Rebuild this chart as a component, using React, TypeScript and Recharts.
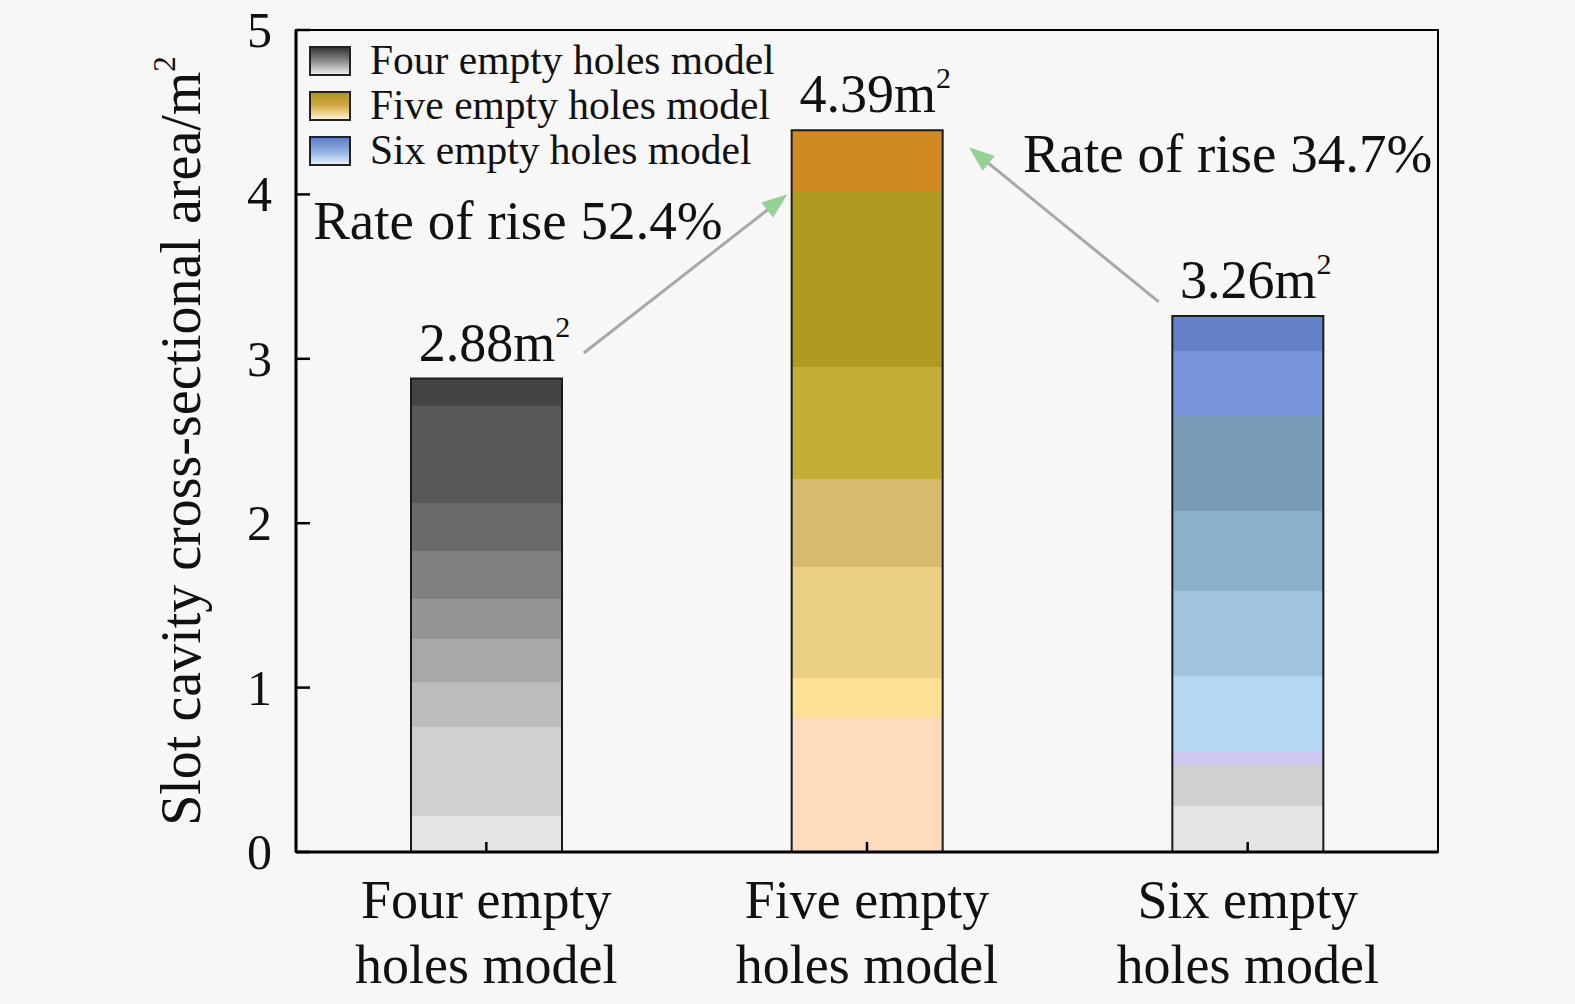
import React from 'react'
import {
  BarChart,
  Bar,
  Cell,
  XAxis,
  YAxis,
  LabelList,
  ReferenceLine,
  ReferenceDot,
  ReferenceArea,
} from 'recharts'

// data
const categories = ['Four empty holes model', 'Five empty holes model', 'Six empty holes model']
const areas = [2.88, 4.39, 3.26]
const tickLines = [
  ['Four empty', 'holes model'],
  ['Five empty', 'holes model'],
  ['Six empty', 'holes model'],
]
const riseRates = ['52.4%', '34.7%']
const yTicks = [0, 1, 2, 3, 4, 5]

const data = categories.map((name, i) => ({ name, value: areas[i] }))

// colour bands of each bar, from the top: [colour, lower edge as fraction of bar height]
const bandStyles: [string, number][][] = [
  [
    ['#444444', 0.059],
    ['#585858', 0.263],
    ['#6a6a6a', 0.364],
    ['#808080', 0.466],
    ['#959595', 0.551],
    ['#a8a8a8', 0.642],
    ['#bcbcbc', 0.737],
    ['#d0d0d0', 0.924],
    ['#e4e4e4', 1],
  ],
  [
    ['#d08a24', 0.085],
    ['#b09a22', 0.328],
    ['#c4ae38', 0.483],
    ['#d8ba6e', 0.605],
    ['#eacf85', 0.759],
    ['#fde095', 0.814],
    ['#fddbbb', 1],
  ],
  [
    ['#6480c8', 0.065],
    ['#7794dc', 0.185],
    ['#7a9cb8', 0.364],
    ['#8ab0cc', 0.513],
    ['#a0c4e0', 0.672],
    ['#b4d8f4', 0.812],
    ['#d0c8f0', 0.84],
    ['#d0d0d0', 0.914],
    ['#e4e4e4', 1],
  ],
]

const legendSwatches = [
  [['#303030', 0], ['#8a8a8a', 0.5], ['#f4f4f4', 1]],
  [['#a89420', 0], ['#d0a640', 0.45], ['#f0d48c', 0.75], ['#fff6e4', 1]],
  [['#5a7ac8', 0], ['#94b4e4', 0.55], ['#eaf4ff', 1]],
]

// annotation layout on the hidden linear x axis (spans 0..2 across the plot) and the y axis
const arrows = [
  [{ x: 0.504, y: 3.035 }, { x: 0.859, y: 3.996 }],
  [{ x: 1.511, y: 3.346 }, { x: 1.18, y: 4.282 }],
]
const rateSpots = [
  { x: 0.03, y: 3.729 },
  { x: 1.273, y: 4.136 },
]

const FONT = '"Liberation Serif", "Times New Roman", serif'

function Arrow(props: any) {
  const { x1, y1, x2, y2 } = props
  const ang = Math.atan2(y2 - y1, x2 - x1)
  const len = 24
  const hw = 9
  const bx = x2 - len * Math.cos(ang)
  const by = y2 - len * Math.sin(ang)
  const px = -Math.sin(ang) * hw
  const py = Math.cos(ang) * hw
  return (
    <g>
      <line x1={x1} y1={y1} x2={bx} y2={by} stroke="#a8a8a8" strokeWidth={3} />
      <polygon
        points={`${x2},${y2} ${bx + px},${by + py} ${bx - px},${by - py}`}
        fill="#93d393"
        stroke="#a8c8a8"
        strokeWidth={1}
      />
    </g>
  )
}

function YTick(props: any) {
  const { x, y, payload } = props
  return (
    <g>
      <line x1={x + 24} x2={x + 38} y1={y} y2={y} stroke="#000" strokeWidth={2.5} />
      <text x={x} y={y} dy={17} textAnchor="end" fontSize={50} fontFamily={FONT} fill="#111">
        {payload.value}
      </text>
    </g>
  )
}

function XTick(props: any) {
  const { x, y, index } = props
  const lines = tickLines[index] ?? []
  return (
    <g>
      <line x1={x} x2={x} y1={y} y2={y - 10} stroke="#000" strokeWidth={2.5} />
      <text x={x} y={y} textAnchor="middle" fontSize={54} fontFamily={FONT} fill="#111">
        <tspan x={x} dy={66}>{lines[0]}</tspan>
        <tspan x={x} dy={65}>{lines[1]}</tspan>
      </text>
    </g>
  )
}

function ValueLabel(props: any) {
  const { x, y, width, value } = props
  const cx = x + width / 2 + 8
  return (
    <text x={cx} y={y - 18} textAnchor="middle" fontSize={54} fontFamily={FONT} fill="#111">
      {Number(value).toFixed(2)}m
      <tspan dy={-24} fontSize={30}>2</tspan>
    </text>
  )
}

function YLabel(props: any) {
  const vb = props.viewBox
  const cx = vb.x + 26
  const cy = vb.y + vb.height / 2
  return (
    <text
      x={cx}
      y={cy}
      dy={18}
      transform={`rotate(-90, ${cx}, ${cy})`}
      textAnchor="middle"
      fontSize={56}
      fontFamily={FONT}
      fill="#111"
    >
      Slot cavity cross-sectional area/m
      <tspan dy={-25} fontSize={31}>2</tspan>
    </text>
  )
}

function rateText(label: string) {
  return (p: any) => (
    <text x={p.cx} y={p.cy} fontSize={55} fontFamily={FONT} fill="#111">
      Rate of rise {label}
    </text>
  )
}

function Legend() {
  return (
    <div
      style={{
        position: 'absolute',
        left: 308,
        top: 38,
        fontFamily: FONT,
        fontSize: 41.5,
        lineHeight: '45px',
        color: '#111',
      }}
    >
      {categories.map((c, i) => (
        <div key={c} style={{ display: 'flex', alignItems: 'center', height: 45 }}>
          <svg width={44} height={32} style={{ marginRight: 18 }}>
            <defs>
              <linearGradient id={`sw-${i}`} x1="0" y1="0" x2="0" y2="1">
                {legendSwatches[i].map(([col, off], k) => (
                  <stop key={k} offset={off as number} stopColor={col as string} />
                ))}
              </linearGradient>
            </defs>
            <rect x={2} y={2} width={40} height={28} fill={`url(#sw-${i})`} stroke="#222" strokeWidth={2} />
          </svg>
          <span>{c}</span>
        </div>
      ))}
    </div>
  )
}

export default function App() {
  return (
    <div
      style={{
        position: 'absolute',
        left: 0,
        top: 0,
        width: 1575,
        height: 1004,
        background: '#f7f7f7',
        fontFamily: FONT,
      }}
    >
      <BarChart
        width={1575}
        height={1004}
        data={data}
        margin={{ top: 30, right: 137, bottom: 12, left: 156 }}
      >
        <defs>
          {bandStyles.map((bands, i) => (
            <linearGradient key={i} id={`band-${i}`} x1="0" y1="0" x2="0" y2="1">
              {bands.flatMap(([col, end], k) => {
                const start = k === 0 ? 0 : bands[k - 1][1]
                return [
                  <stop key={`${k}a`} offset={start} stopColor={col} />,
                  <stop key={`${k}b`} offset={end} stopColor={col} />,
                ]
              })}
            </linearGradient>
          ))}
        </defs>
        <XAxis
          xAxisId="cat"
          dataKey="name"
          height={140}
          interval={0}
          axisLine={{ stroke: '#000', strokeWidth: 3 }}
          tickLine={false}
          tickSize={0}
          tickMargin={0}
          tick={<XTick />}
        />
        <XAxis xAxisId="num" type="number" domain={[0, 2]} hide />
        <YAxis
          domain={[0, 5]}
          ticks={yTicks}
          interval={0}
          width={140}
          axisLine={{ stroke: '#000', strokeWidth: 3 }}
          tickLine={false}
          tickSize={0}
          tickMargin={24}
          tick={<YTick />}
          label={<YLabel />}
        />
        <ReferenceArea
          xAxisId="num"
          x1={0}
          x2={2}
          y1={0}
          y2={5}
          ifOverflow="visible"
          fill="none"
          stroke="#000"
          strokeWidth={2}
        />
        <Bar
          xAxisId="cat"
          dataKey="value"
          barSize={151}
          stroke="#1a1a1a"
          strokeWidth={2}
          isAnimationActive={false}
        >
          {data.map((d, i) => (
            <Cell key={d.name} fill={`url(#band-${i})`} />
          ))}
          <LabelList dataKey="value" content={<ValueLabel />} />
        </Bar>
        {arrows.map((seg, i) => (
          <ReferenceLine key={i} xAxisId="num" segment={seg} ifOverflow="visible" shape={<Arrow />} />
        ))}
        {rateSpots.map((p, i) => (
          <ReferenceDot
            key={i}
            xAxisId="num"
            x={p.x}
            y={p.y}
            r={0}
            ifOverflow="visible"
            shape={rateText(riseRates[i])}
          />
        ))}
      </BarChart>
      <Legend />
    </div>
  )
}
